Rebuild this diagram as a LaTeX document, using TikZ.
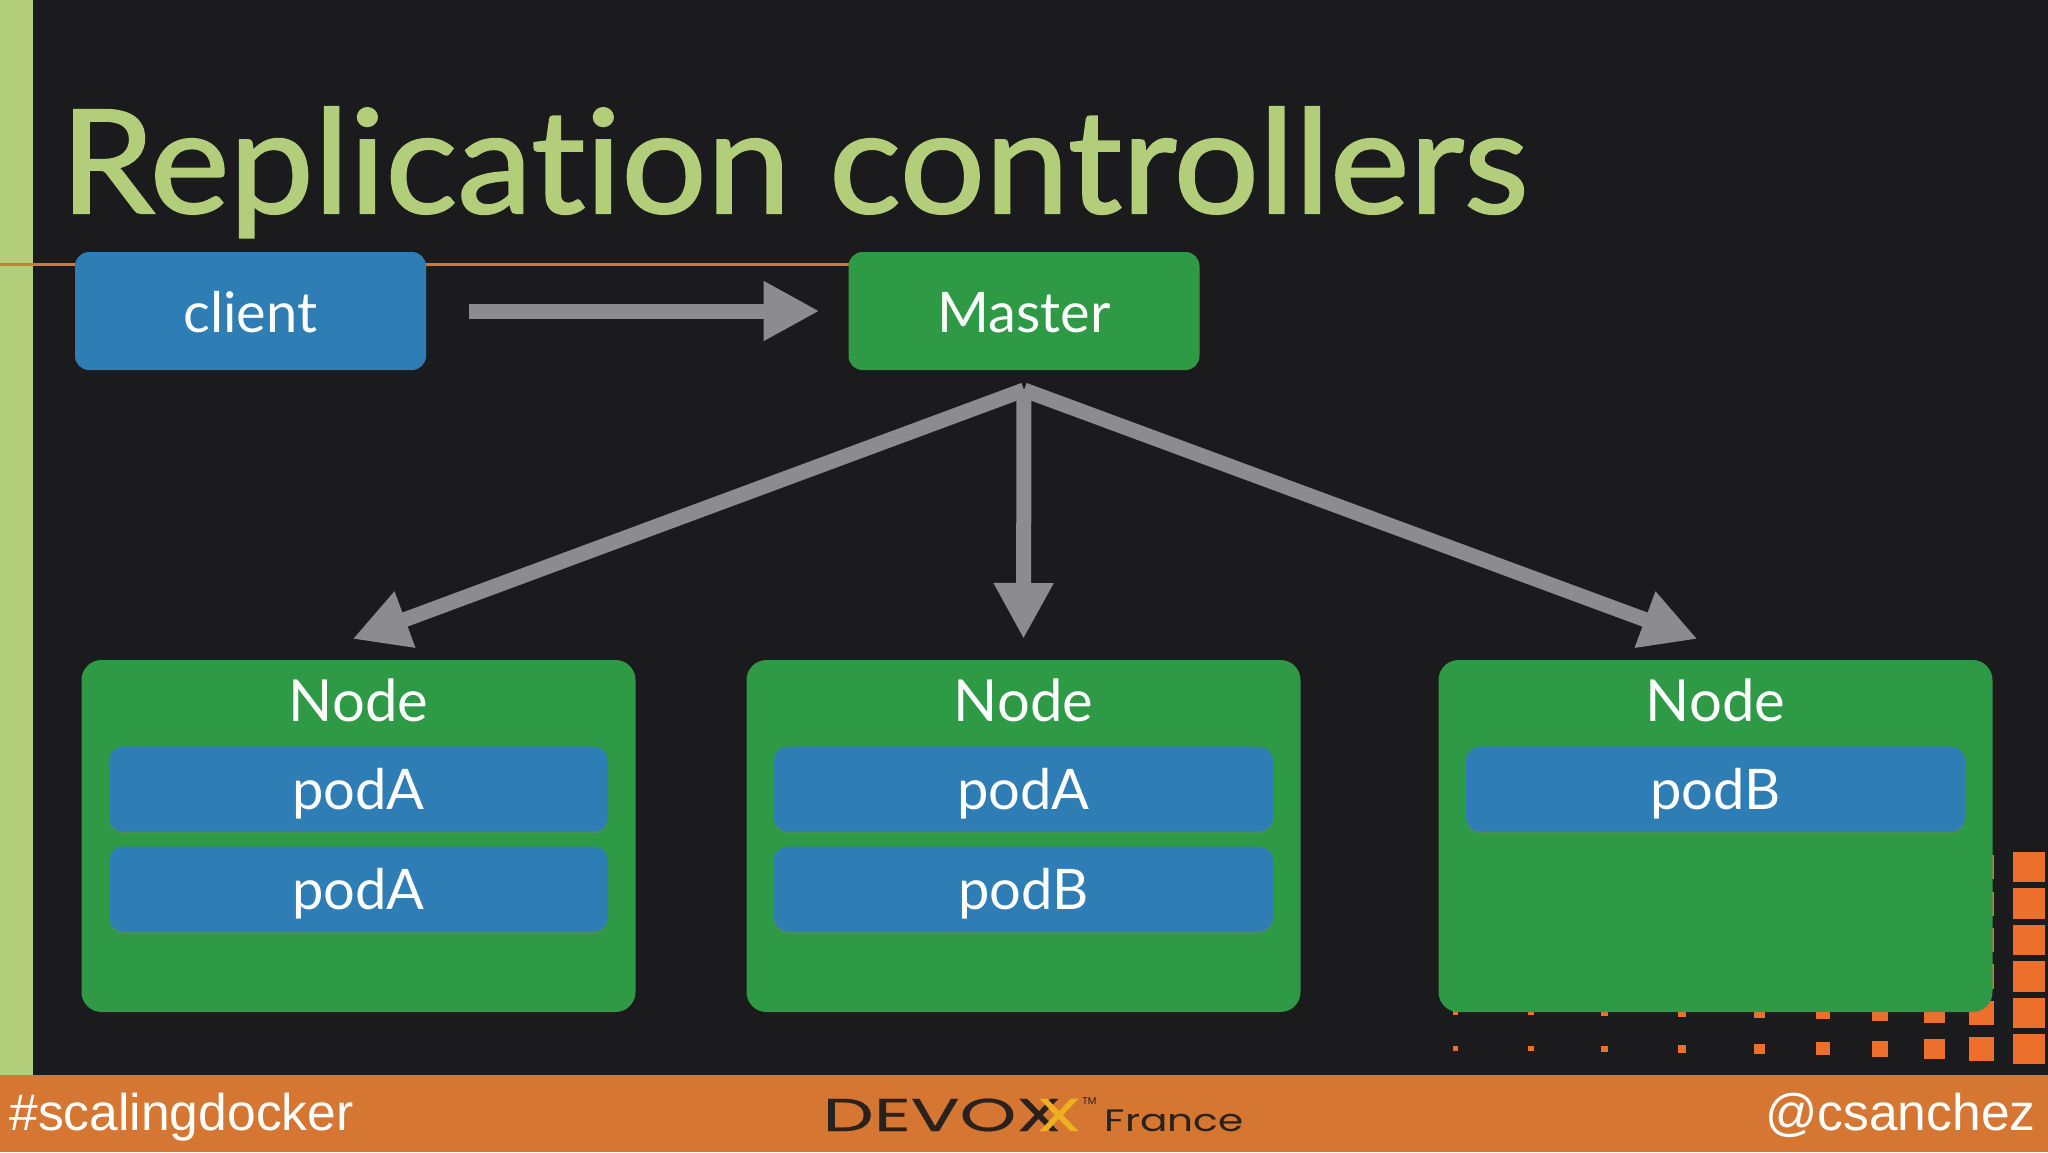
\documentclass[tikz,border=0pt]{standalone}
\usepackage{fontspec}
\setmainfont{Lato}
\newfontfamily\titlefont[Ligatures=NoCommon,Contextuals=NoAlternate,FakeBold=1.4]{Lato}
\newfontfamily\footfont{Liberation Sans}
\newfontfamily\logofont[FakeBold=0.5]{Poppins}
\newfontfamily\smalllogofont{Poppins}
\usetikzlibrary{arrows.meta,calc,shadows}
\definecolor{slide}{HTML}{1B1B1D}
\definecolor{lime}{HTML}{B3CE7A}
\definecolor{band}{HTML}{D57732}
\definecolor{brick}{HTML}{EC6F2B}
\definecolor{podblue}{HTML}{2F7DB5}
\definecolor{nodegreen}{HTML}{2F9A45}
\definecolor{flowgray}{HTML}{8C8B8E}
\definecolor{logodark}{HTML}{2A211C}
\definecolor{logoyellow}{HTML}{EDB021}
\tikzset{
  box/.style={rounded corners=7pt, inner sep=0pt, outer sep=0pt, text=white, font=\fontsize{28}{30}\selectfont, text height=20.5pt, text depth=0pt},
  topbox/.style={box, minimum width=175.5pt, minimum height=59pt, text height=21pt},
  nodebox/.style={box, fill=nodegreen, rounded corners=10pt, minimum width=277pt, minimum height=176pt},
  nodetext/.style={inner sep=0pt, outer sep=0pt, text=white, font=\fontsize{29}{31}\selectfont, text height=21pt, text depth=0pt},
  podbox/.style={box, fill=podblue, minimum width=249.5pt, minimum height=42.5pt, drop shadow={shadow xshift=0pt, shadow yshift=-1pt, opacity=.35}},
  flow/.style={draw=flowgray, line width=7.5pt, -{Triangle[width=28pt,length=28pt]}},
}
\begin{document}
\begin{tikzpicture}[x=.5pt,y=-.5pt]
\useasboundingbox (0,0) rectangle (2048,1152);
\fill[slide] (0,0) rectangle (2048,1152);
\fill[lime] (0,0) rectangle (33,1075);
\fill[band] (0,1075) rectangle (2048,1152);
\fill[band] (0,262.5) rectangle (860,265.5);
\node[anchor=base west, inner sep=0pt, text=lime, xscale=1.045, font=\titlefont\fontsize{72}{75}\selectfont] (title) at (60,213) {Replication controllers};
% squares behind the third node
\fill[brick] (2013,852) rectangle (2045,882);
\fill[brick] (2013,888) rectangle (2045,919);
\fill[brick] (2013,925) rectangle (2045,955);
\fill[brick] (2013,961) rectangle (2045,992);
\fill[brick] (2013,998) rectangle (2045,1028);
\fill[brick] (2013,1034) rectangle (2045,1064);
\fill[brick] (1969,855) rectangle (1994,879);
\fill[brick] (1969,892) rectangle (1994,916);
\fill[brick] (1969,928) rectangle (1994,952);
\fill[brick] (1969,964) rectangle (1994,989);
\fill[brick] (1969,1001) rectangle (1994,1025);
\fill[brick] (1969,1037) rectangle (1994,1061);
\fill[brick] (1924,1003) rectangle (1945,1023);
\fill[brick] (1924,1039) rectangle (1945,1059);
\fill[brick] (1872,1005) rectangle (1888,1021);
\fill[brick] (1872,1041) rectangle (1888,1057);
\fill[brick] (1816,1006) rectangle (1830,1019);
\fill[brick] (1816,1042) rectangle (1830,1055);
\fill[brick] (1754,1008) rectangle (1764.5,1018);
\fill[brick] (1754,1044) rectangle (1764.5,1054);
\fill[brick] (1678,1009) rectangle (1686,1017);
\fill[brick] (1678,1045) rectangle (1686,1053);
\fill[brick] (1601,1010) rectangle (1608,1016);
\fill[brick] (1601,1046) rectangle (1608,1052);
\fill[brick] (1528,1010) rectangle (1533.5,1015);
\fill[brick] (1528,1046) rectangle (1533.5,1051);
\fill[brick] (1452.5,1010) rectangle (1457.5,1015);
\fill[brick] (1452.5,1046) rectangle (1457.5,1051);

\node[topbox, fill=podblue] (client) at (250.5,311){client};
\node[topbox, fill=nodegreen] (master) at (1024,311){Master};
\node[nodebox] (nodeA) at (358.5,836){};
\node[nodebox] (nodeB) at (1023.5,836){};
\node[nodebox] (nodeC) at (1715.5,836){};
\node[nodetext] (labelA) at (358.5,700){Node};
\node[nodetext] (labelB) at (1023.5,700){Node};
\node[nodetext] (labelC) at (1715.5,700){Node};
\node[podbox] (podA1) at (358.5,789){podA};
\node[podbox] (podA2) at (358.5,889){podA};
\node[podbox] (podB1) at (1023.5,789){podA};
\node[podbox] (podB2) at (1023.5,889){podB};
\node[podbox] (podC1) at (1715.5,789){podB};

\coordinate (fork) at ($(master.south)+(0,20)$);
\coordinate (tipA) at ($(nodeA.north)+(-6,-21)$);
\coordinate (tipB) at ($(nodeB.north)+(0,-21)$);
\coordinate (tipC) at ($(nodeC.north)+(-18,-21)$);
\draw[flow, shorten <=21.5pt, shorten >=14.5pt] (client.east) -- (master.west);
\draw[flow] (fork) -- (tipA);
\draw[flow] (fork) -- (tipB);
\draw[flow] (fork) -- (tipC);

\node[anchor=base west, inner sep=0pt, text=white, font=\footfont\fontsize{25.8}{27}\selectfont] (tag) at (9,1130) {\#scalingdocker};
\node[anchor=base east, inner sep=0pt, text=white, font=\footfont\fontsize{25.8}{27}\selectfont] (handle) at (2036,1130) {@csanchez};
\node[anchor=base west, inner sep=0pt, text=logodark, xscale=1.57, font=\logofont\fontsize{23}{25}\selectfont] (devox) at (822,1131) {DEVOX};
\node[anchor=base west, inner sep=0pt, text=logoyellow, xscale=1.56, font=\logofont\fontsize{23}{25}\selectfont] (devoy) at (1036,1131) {X};
\node[anchor=base west, inner sep=0pt, text=logodark, font=\smalllogofont\fontsize{5}{6}\selectfont] (tm) at (1082,1104) {TM};
\node[anchor=base west, inner sep=0pt, text=logodark, xscale=1.31, font=\smalllogofont\fontsize{15.5}{17}\selectfont] (france) at (1104,1131) {France};
\end{tikzpicture}
\end{document}
